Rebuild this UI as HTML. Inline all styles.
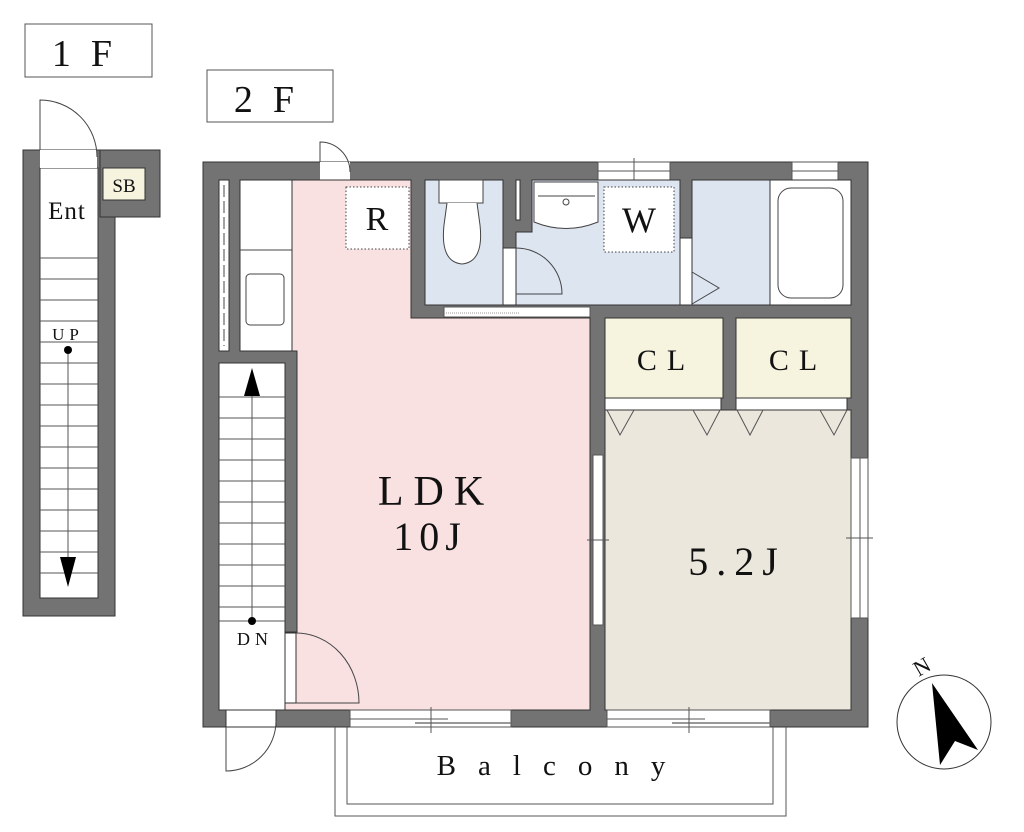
<!DOCTYPE html>
<html><head><meta charset="utf-8"><style>
body{margin:0;background:#fff}
svg{display:block}
text{font-family:"Liberation Serif",serif;fill:#111}
</style></head><body>
<svg width="1024" height="832" viewBox="0 0 1024 832" xmlns="http://www.w3.org/2000/svg">
<rect x="25" y="24" width="127" height="53" fill="#fff" stroke="#555"/>
<text x="92" y="66" font-size="38" text-anchor="middle" letter-spacing="20">1F</text>
<rect x="207" y="70" width="126" height="52" fill="#fff" stroke="#555"/>
<text x="274" y="112" font-size="38" text-anchor="middle" letter-spacing="20">2F</text>

<!-- 1F -->
<rect x="23" y="150" width="92" height="466" fill="#737373" stroke="#333"/>
<rect x="100" y="150" width="60" height="67" fill="#737373" stroke="#333"/>
<rect x="40" y="168" width="58" height="430" fill="#fff" stroke="#333"/>
<rect x="103" y="168" width="42" height="32" fill="#f6f4df" stroke="#333"/>
<text x="124" y="192" font-size="19" text-anchor="middle">SB</text>
<rect x="40" y="150" width="57" height="18" fill="#fff"/>
<path d="M40 150 V100 A57 57 0 0 1 97 157" fill="none" stroke="#444"/>
<text x="67" y="219" font-size="25" text-anchor="middle" letter-spacing="1">Ent</text>
<g stroke="#555">
<line x1="40" y1="258" x2="98" y2="258"/><line x1="40" y1="279" x2="98" y2="279"/><line x1="40" y1="300" x2="98" y2="300"/><line x1="40" y1="321" x2="98" y2="321"/><line x1="40" y1="342" x2="98" y2="342"/><line x1="40" y1="363" x2="98" y2="363"/><line x1="40" y1="384" x2="98" y2="384"/><line x1="40" y1="405" x2="98" y2="405"/><line x1="40" y1="426" x2="98" y2="426"/><line x1="40" y1="447" x2="98" y2="447"/><line x1="40" y1="468" x2="98" y2="468"/><line x1="40" y1="489" x2="98" y2="489"/><line x1="40" y1="510" x2="98" y2="510"/><line x1="40" y1="531" x2="98" y2="531"/><line x1="40" y1="552" x2="98" y2="552"/><line x1="40" y1="573" x2="98" y2="573"/>
<line x1="68" y1="350" x2="68" y2="565"/>
</g>
<circle cx="68" cy="350" r="4" fill="#000"/>
<text x="68" y="340" font-size="17" text-anchor="middle" letter-spacing="5">UP</text>
<polygon points="60,557 76,557 68,587" fill="#000"/>

<!-- 2F walls -->
<rect x="203" y="162" width="665" height="565" fill="#737373" stroke="#333"/>
<rect x="320" y="162" width="30" height="18" fill="#fff"/>
<path d="M320 162 V142 A30 30 0 0 1 350 172" fill="none" stroke="#444"/>
<rect x="598" y="162" width="72" height="18" fill="#fff" stroke="#555"/>
<line x1="598" y1="171" x2="670" y2="171" stroke="#555"/>
<line x1="634" y1="158" x2="634" y2="185" stroke="#555"/>
<rect x="792" y="162" width="46" height="18" fill="#fff" stroke="#555"/>
<line x1="792" y1="171" x2="838" y2="171" stroke="#555"/>

<rect x="219" y="180" width="10" height="171" fill="#fff" stroke="#333"/>
<line x1="224" y1="185" x2="224" y2="346" stroke="#444" stroke-dasharray="12,4"/>
<rect x="240" y="180" width="52" height="171" fill="#fff" stroke="#333"/>
<line x1="240" y1="250" x2="292" y2="250" stroke="#444"/>
<rect x="246" y="274" width="38" height="51" rx="4" fill="#fff" stroke="#444"/>

<path d="M292 180 H411 V318 H590 V710 H285 V632 H297 V351 H292 Z" fill="#f9e1e2" stroke="#333"/>
<rect x="346" y="187" width="63" height="62" fill="#fff" stroke="#444" stroke-dasharray="1.5,2"/>
<text x="377" y="230" font-size="34" text-anchor="middle">R</text>
<text x="436" y="505" font-size="42" text-anchor="middle" letter-spacing="10">LDK</text>
<text x="430" y="550" font-size="40" text-anchor="middle" letter-spacing="6">10J</text>
<rect x="285" y="633" width="11" height="70" fill="#fff" stroke="#333"/>
<path d="M296 633 A63 70 0 0 1 359 703 H296" fill="none" stroke="#444"/>

<rect x="425" y="180" width="78" height="125" fill="#dde5f1" stroke="#333"/>
<rect x="439" y="180" width="44" height="23" fill="#fff" stroke="#444"/>
<path d="M447 203 L444 225 Q440 262 462 264 Q484 262 480 225 L477 203" fill="#fff" stroke="#444"/>
<rect x="516" y="180" width="4" height="40" fill="#fff" stroke="#333"/>
<path d="M532 180 H680 V305 H516 V232 H532 Z" fill="#dde5f1" stroke="#333"/>
<path d="M534 182 V222 Q566 235 598 222 V182 Z" fill="#fff" stroke="#444"/>
<line x1="538" y1="196" x2="595" y2="196" stroke="#444"/>
<circle cx="566" cy="202" r="3" fill="#fff" stroke="#444"/>
<rect x="604" y="187" width="70" height="65" fill="#fff" stroke="#444" stroke-dasharray="1.5,2"/>
<text x="639" y="232" font-size="36" text-anchor="middle">W</text>
<rect x="503" y="248" width="13" height="57" fill="#fff" stroke="#333"/>
<path d="M516 248 A46 46 0 0 1 562 294 H516" fill="none" stroke="#444"/>
<rect x="680" y="238" width="12" height="67" fill="#fff" stroke="#333"/>
<rect x="692" y="180" width="78" height="125" fill="#dde5f1" stroke="#333"/>
<polyline points="692,272 719,288 692,304" fill="none" stroke="#444"/>
<rect x="770" y="180" width="81" height="125" fill="#fff" stroke="#333"/>
<rect x="778" y="188" width="65" height="110" rx="13" fill="#fff" stroke="#444"/>
<rect x="444" y="307" width="146" height="10" fill="#fff" stroke="#555"/>
<line x1="446" y1="313" x2="520" y2="313" stroke="#999" stroke-dasharray="1,1"/>

<rect x="605" y="318" width="118" height="80" fill="#f6f4df" stroke="#333"/>
<rect x="736" y="318" width="115" height="80" fill="#f6f4df" stroke="#333"/>
<text x="666" y="370" font-size="30" text-anchor="middle" letter-spacing="10">CL</text>
<text x="798" y="370" font-size="30" text-anchor="middle" letter-spacing="10">CL</text>
<rect x="605" y="398" width="116" height="12" fill="#fff" stroke="#333"/>
<rect x="736" y="398" width="111" height="12" fill="#fff" stroke="#333"/>
<rect x="605" y="410" width="246" height="300" fill="#ebe7dd" stroke="#333"/>
<g fill="none" stroke="#555">
<polyline points="607,410 620,435 634,410"/><polyline points="693,410 707,435 720,410"/>
<polyline points="737,410 750,435 763,410"/><polyline points="820,410 834,435 847,410"/>
</g>
<text x="737" y="575" font-size="40" text-anchor="middle" letter-spacing="8">5.2J</text>
<rect x="593" y="455" width="10" height="170" fill="#fff" stroke="#555"/>
<line x1="587" y1="540" x2="609" y2="540" stroke="#555"/>
<rect x="851" y="458" width="17" height="160" fill="#fff" stroke="#555"/>
<line x1="846" y1="538" x2="873" y2="538" stroke="#555"/>
<line x1="860" y1="458" x2="860" y2="618" stroke="#555"/>

<rect x="219" y="363" width="66" height="347" fill="#fff" stroke="#333"/>
<g stroke="#555">
<line x1="219" y1="397" x2="285" y2="397"/><line x1="219" y1="418" x2="285" y2="418"/><line x1="219" y1="439" x2="285" y2="439"/><line x1="219" y1="460" x2="285" y2="460"/><line x1="219" y1="481" x2="285" y2="481"/><line x1="219" y1="502" x2="285" y2="502"/><line x1="219" y1="523" x2="285" y2="523"/><line x1="219" y1="544" x2="285" y2="544"/><line x1="219" y1="565" x2="285" y2="565"/><line x1="219" y1="586" x2="285" y2="586"/><line x1="219" y1="607" x2="285" y2="607"/><line x1="219" y1="621" x2="285" y2="621"/>
<line x1="252" y1="390" x2="252" y2="621"/>
</g>
<polygon points="244,396 260,396 252,368" fill="#000"/>
<circle cx="252" cy="621" r="4" fill="#000"/>
<text x="255" y="645" font-size="18" text-anchor="middle" letter-spacing="5">DN</text>

<rect x="226" y="710" width="50" height="17" fill="#fff" stroke="#333"/>
<path d="M226 727 V771 A50 50 0 0 0 276 721" fill="none" stroke="#444"/>
<rect x="350" y="710" width="161" height="17" fill="#fff" stroke="#555"/>
<line x1="350" y1="719" x2="448" y2="719" stroke="#555"/><line x1="415" y1="723" x2="511" y2="723" stroke="#777" stroke-width="1.5"/>
<line x1="431" y1="707" x2="431" y2="733" stroke="#555"/>
<rect x="607" y="710" width="163" height="17" fill="#fff" stroke="#555"/>
<line x1="607" y1="719" x2="705" y2="719" stroke="#555"/><line x1="672" y1="723" x2="770" y2="723" stroke="#777" stroke-width="1.5"/>
<line x1="689" y1="707" x2="689" y2="733" stroke="#555"/>

<path d="M335 727 V816 H786 V727" fill="none" stroke="#555"/>
<path d="M347 727 V804 H773 V727" fill="none" stroke="#555"/>
<text x="562" y="775" font-size="29" text-anchor="middle" letter-spacing="22">Balcony</text>

<circle cx="944" cy="722" r="47" fill="#fff" stroke="#333"/>
<polygon points="932,683 978,750 955,741 940,765" fill="#000"/>
<text x="922" y="674" font-size="22" text-anchor="middle" transform="rotate(-30 922 667)">N</text>
</svg>
</body></html>
